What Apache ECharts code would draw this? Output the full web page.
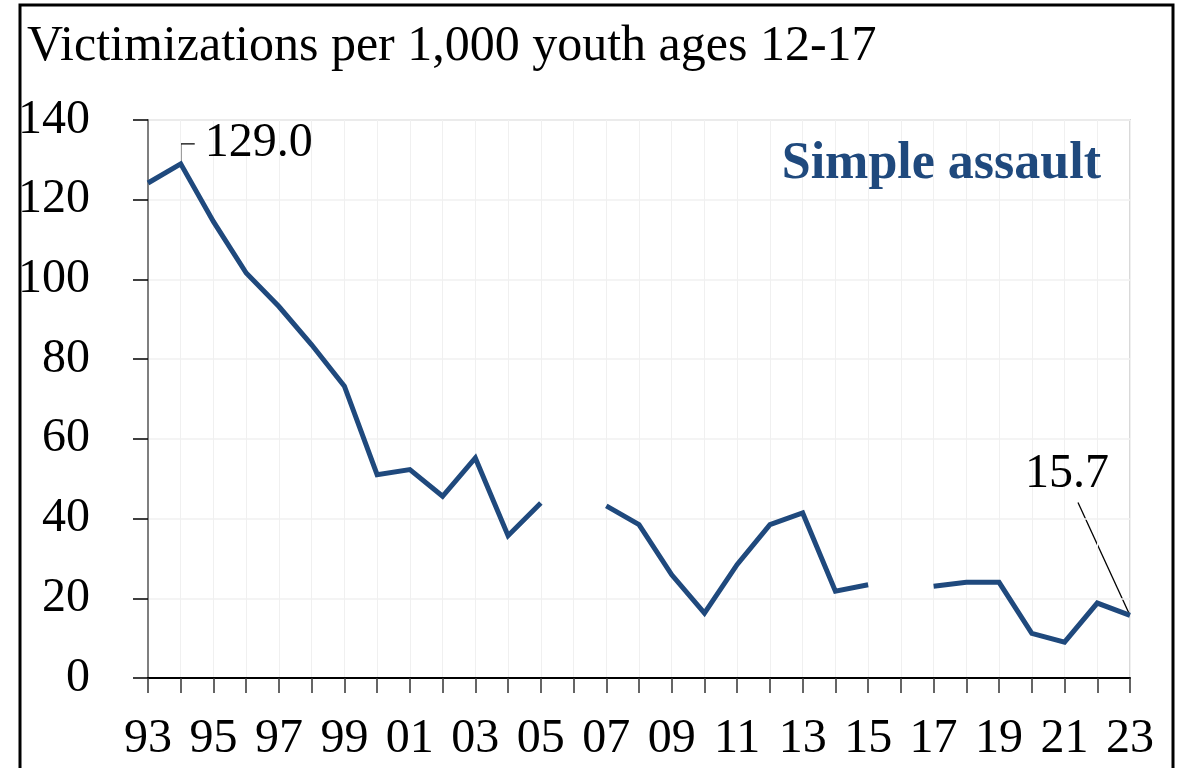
<!DOCTYPE html>
<html>
<head>
<meta charset="utf-8">
<script src="https://cdn.jsdelivr.net/npm/echarts@6/dist/echarts.min.js"></script>
<style>
  html, body { margin: 0; padding: 0; background: #fff; }
  #simple_assault { width: 1183px; height: 768px; }
</style>
</head>
<body>
<div id="simple_assault"></div>
<script>
// years 1993-2023, shown as two digits
let yearLabels = ['93', '94', '95', '96', '97', '98', '99', '00', '01', '02', '03',
    '04', '05', '06', '07', '08', '09', '10', '11', '12', '13', '14', '15', '16',
    '17', '18', '19', '20', '21', '22', '23'];

// victimizations per 1,000 youth ages 12-17 (no estimate for 2006 and 2016)
let simpleAssault = [124.2, 129.0, 114.5, 101.6, 93.2, 83.6, 73.2, 51.0, 52.3, 45.6,
    55.2, 35.7, 43.9, null, 43.2, 38.5, 25.9, 16.3, 28.5, 38.5, 41.4, 21.8, 23.4,
    null, 23.0, 24.0, 24.0, 11.2, 9.0, 18.8, 15.7];

let labelledYears = ['94', '23'];

let yTicks = [0, 20, 40, 60, 80, 100, 120, 140];

function simple_assault_chart() {

    let chart = echarts.init(document.getElementById('simple_assault'));

    let font = 'Liberation Serif';
    let blue = '#1f497d';

    let seriesData = [];
    for (var i = 0; i < simpleAssault.length; i++) {
        let item = { value: simpleAssault[i] };
        if (labelledYears.indexOf(yearLabels[i]) >= 0) {
            item.label = {
                show: true,
                position: yearLabels[i] === '94' ? 'right' : 'top',
                formatter: function (p) { return p.value.toFixed(1); }
            };
        }
        seriesData.push(item);
    }

    var option = {
        animation: false,
        title: [
            {
                text: 'Victimizations per 1,000 youth ages 12-17',
                left: 27,
                top: 22,
                padding: 0,
                textStyle: { fontFamily: font, fontSize: 50, fontWeight: 'normal', color: '#000' }
            },
            {
                text: 'Simple assault',
                right: 82,
                top: 139,
                padding: 0,
                textStyle: { fontFamily: font, fontSize: 52, fontWeight: 'bold', color: blue }
            }
        ],
        graphic: [
            {
                id: 'frame',
                type: 'rect',
                shape: { x: 20, y: 5, width: 1153, height: 800 },
                style: { fill: 'none', stroke: '#000', lineWidth: 3 },
                silent: true
            }
        ],
        grid: {
            left: 148,
            right: 53,
            top: 120,
            bottom: 90,
            show: true,
            borderColor: '#d9d9d9',
            borderWidth: 2
        },
        xAxis: {
            type: 'category',
            boundaryGap: false,
            data: yearLabels,
            axisLine: { show: true, lineStyle: { color: '#000', width: 2 } },
            axisTick: { show: true, interval: 0, length: 15, lineStyle: { color: '#333', width: 1.5 } },
            axisLabel: {
                interval: 1,
                margin: 37,
                fontFamily: font,
                fontSize: 48,
                color: '#000'
            },
            splitLine: { show: true, interval: 0, lineStyle: { color: '#f0f0f0', width: 1 } }
        },
        yAxis: {
            type: 'value',
            min: yTicks[0],
            max: yTicks[yTicks.length - 1],
            interval: 20,
            axisLine: { show: true, lineStyle: { color: '#7f7f7f', width: 2 } },
            axisTick: { show: true, length: 15, lineStyle: { color: '#000', width: 1.5 } },
            axisLabel: {
                margin: 58,
                fontFamily: font,
                fontSize: 48,
                color: '#000'
            },
            splitLine: { show: true, lineStyle: { color: '#f0f0f0', width: 1.5 } }
        },
        series: [
            {
                name: 'Simple assault',
                type: 'line',
                data: seriesData,
                connectNulls: false,
                showSymbol: true,
                showAllSymbol: true,
                symbol: 'circle',
                symbolSize: 0,
                itemStyle: { color: blue },
                lineStyle: { color: blue, width: 5, join: 'miter' },
                label: {
                    show: false,
                    distance: 5,
                    fontFamily: font,
                    fontSize: 48,
                    color: '#000'
                },
                labelLayout: function (params) {
                    if (yearLabels[params.dataIndex] === '94') {
                        return { dx: 19, dy: -20 };
                    }
                    return { dx: -63, dy: -112 };
                }
            }
        ]
    };

    option && chart.setOption(option, true);

    // leader lines from the labelled points to their labels
    let peak = chart.convertToPixel({ seriesIndex: 0 }, ['94', simpleAssault[yearLabels.indexOf('94')]]);
    let last = chart.convertToPixel({ seriesIndex: 0 }, ['23', simpleAssault[yearLabels.indexOf('23')]]);
    chart.setOption({
        graphic: [
            {
                id: 'leader94',
                type: 'polyline',
                shape: { points: [[peak[0], peak[1]], [peak[0], peak[1] - 20], [peak[0] + 14, peak[1] - 20]] },
                style: { fill: 'none', stroke: '#000', lineWidth: 1.3 },
                silent: true
            },
            {
                id: 'leader23',
                type: 'line',
                shape: { x1: last[0], y1: last[1], x2: last[0] - 52, y2: last[1] - 113 },
                style: { stroke: '#000', lineWidth: 1.3 },
                silent: true
            }
        ]
    });
}

simple_assault_chart();
</script>
</body>
</html>
